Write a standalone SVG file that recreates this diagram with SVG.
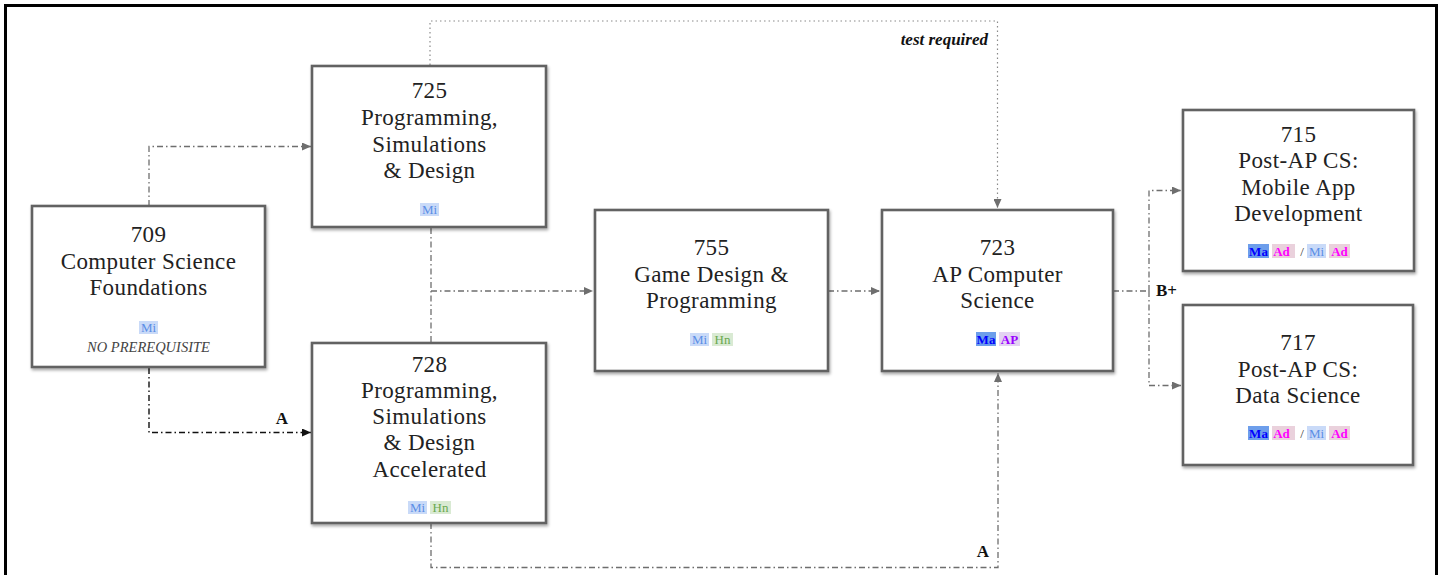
<svg xmlns="http://www.w3.org/2000/svg" width="1444" height="575" viewBox="0 0 1444 575">
  <style>
    .box { fill: #ffffff; stroke: #626262; stroke-width: 2.6; filter: url(#shadow); }
    .title { font-family: "Liberation Serif", "Times New Roman", serif; font-size: 23px; fill: #222222; text-anchor: middle; letter-spacing: 0.4px; }
    .note { font-family: "Liberation Serif", serif; font-size: 14.5px; font-style: italic; fill: #444444; text-anchor: middle; }
    .badge { font-family: "Liberation Serif", serif; font-size: 13px; text-anchor: middle; }
    .lbl { font-family: "Liberation Serif", serif; font-size: 17px; font-weight: bold; fill: #111111; }
    .dashdot { fill: none; stroke: #6e6e6e; stroke-width: 1.3; stroke-dasharray: 6 3 1.5 3; }
    .dashdot-dark { fill: none; stroke: #111111; stroke-width: 1.4; stroke-dasharray: 6 3 1.5 3; }
    .dotted { fill: none; stroke: #8a8a8a; stroke-width: 1.2; stroke-dasharray: 1.5 3; }
  </style>
  <defs>
    <filter id="shadow" x="-10%" y="-10%" width="125%" height="130%">
      <feDropShadow dx="1" dy="2" stdDeviation="1.6" flood-color="#000000" flood-opacity="0.35"/>
    </filter>
    <marker id="arrow" markerWidth="10" markerHeight="8" refX="9" refY="4" orient="auto" markerUnits="userSpaceOnUse">
      <path d="M0,0 L9,4 L0,8 z" fill="#6e6e6e"/>
    </marker>
    <marker id="arrow-dark" markerWidth="10" markerHeight="8" refX="9" refY="4" orient="auto" markerUnits="userSpaceOnUse">
      <path d="M0,0 L9,4 L0,8 z" fill="#111111"/>
    </marker>
  </defs>

  <rect width="1444" height="575" fill="#ffffff"/>
  <!-- page frame -->
  <rect x="5.5" y="5.5" width="1431" height="620" fill="none" stroke="#000000" stroke-width="3"/>

  <!-- connectors -->
  <g id="connectors">
    <!-- 709 -> 725 -->
    <path class="dashdot" d="M149,206 V146.5 H311" marker-end="url(#arrow)"/>
    <!-- 709 -> 728 (A) -->
    <path class="dashdot-dark" d="M149,368 V432.5 H311" marker-end="url(#arrow-dark)"/>
    <text class="lbl" x="282" y="424" text-anchor="middle">A</text>
    <!-- 725 / 728 -> 755 -->
    <path class="dashdot" d="M431,228 V342"/>
    <path class="dashdot" d="M431,291 H593" marker-end="url(#arrow)"/>
    <!-- 755 -> 723 -->
    <path class="dashdot" d="M828,291 H880" marker-end="url(#arrow)"/>
    <!-- 725 -> 723 (test required) -->
    <path class="dotted" d="M430,65 V21 H997.5 V208" marker-end="url(#arrow)"/>
    <text class="lbl" x="988" y="45" text-anchor="end" font-style="italic">test required</text>
    <!-- 728 -> 723 (A) -->
    <path class="dashdot" d="M431,523 V567.5 H998 V373" marker-end="url(#arrow)"/>
    <text class="lbl" x="983" y="557" text-anchor="middle">A</text>
    <!-- 723 -> 715 / 717 (B+) -->
    <path class="dashdot" d="M1113,291 H1149"/>
    <path class="dashdot" d="M1149,291 V190.5 H1181" marker-end="url(#arrow)"/>
    <path class="dashdot" d="M1149,291 V385.5 H1181" marker-end="url(#arrow)"/>
    <text class="lbl" x="1156" y="296">B+</text>
  </g>

  <!-- 709 Computer Science Foundations -->
  <g id="n709">
    <rect class="box" x="32" y="206" width="233" height="161"/>
    <text class="title" x="148.5" y="242">709</text>
    <text class="title" x="148.5" y="269">Computer Science</text>
    <text class="title" x="148.5" y="295">Foundations</text>
    <rect x="139" y="321" width="19" height="13" fill="#c9daf8"/>
    <text class="badge" x="148.5" y="332" fill="#5b8ee6">Mi</text>
    <text class="note" x="148.5" y="352">NO PREREQUISITE</text>
  </g>

  <!-- 725 Programming, Simulations & Design -->
  <g id="n725">
    <rect class="box" x="312" y="66" width="234" height="161"/>
    <text class="title" x="429.5" y="98">725</text>
    <text class="title" x="429.5" y="125">Programming,</text>
    <text class="title" x="429.5" y="152">Simulations</text>
    <text class="title" x="429.5" y="178">&amp; Design</text>
    <rect x="420" y="203" width="19" height="13" fill="#c9daf8"/>
    <text class="badge" x="429.5" y="214" fill="#5b8ee6">Mi</text>
  </g>

  <!-- 728 Programming, Simulations & Design Accelerated -->
  <g id="n728">
    <rect class="box" x="312" y="343" width="234" height="180"/>
    <text class="title" x="429.5" y="372">728</text>
    <text class="title" x="429.5" y="398">Programming,</text>
    <text class="title" x="429.5" y="424">Simulations</text>
    <text class="title" x="429.5" y="450">&amp; Design</text>
    <text class="title" x="429.5" y="477">Accelerated</text>
    <rect x="408" y="501" width="19" height="13" fill="#c9daf8"/>
    <text class="badge" x="417.5" y="512" fill="#5b8ee6">Mi</text>
    <rect x="430" y="501" width="21" height="13" fill="#d9ead3"/>
    <text class="badge" x="440.5" y="512" fill="#6aa84f">Hn</text>
  </g>

  <!-- 755 Game Design & Programming -->
  <g id="n755">
    <rect class="box" x="595" y="210" width="233" height="161"/>
    <text class="title" x="711.5" y="255">755</text>
    <text class="title" x="711.5" y="282">Game Design &amp;</text>
    <text class="title" x="711.5" y="308">Programming</text>
    <rect x="690" y="333" width="19" height="13" fill="#c9daf8"/>
    <text class="badge" x="699.5" y="344" fill="#5b8ee6">Mi</text>
    <rect x="712" y="333" width="21" height="13" fill="#d9ead3"/>
    <text class="badge" x="722.5" y="344" fill="#6aa84f">Hn</text>
  </g>

  <!-- 723 AP Computer Science -->
  <g id="n723">
    <rect class="box" x="882" y="210" width="231" height="161"/>
    <text class="title" x="997.5" y="255">723</text>
    <text class="title" x="997.5" y="282">AP Computer</text>
    <text class="title" x="997.5" y="308">Science</text>
    <rect x="976" y="332" width="20" height="14" fill="#6d9eeb"/>
    <text class="badge" x="986" y="344" fill="#0000ff" font-weight="bold">Ma</text>
    <rect x="999" y="332" width="21" height="14" fill="#e3d3f2"/>
    <text class="badge" x="1009.5" y="344" fill="#9900ff" font-weight="bold">AP</text>
  </g>

  <!-- 715 Post-AP CS: Mobile App Development -->
  <g id="n715">
    <rect class="box" x="1183" y="110" width="231" height="161"/>
    <text class="title" x="1298.5" y="142">715</text>
    <text class="title" x="1298.5" y="168">Post-AP CS:</text>
    <text class="title" x="1298.5" y="195">Mobile App</text>
    <text class="title" x="1298.5" y="221">Development</text>
    <rect x="1248" y="244" width="21" height="14" fill="#6d9eeb"/>
    <text class="badge" x="1258.5" y="256" fill="#0000ff" font-weight="bold">Ma</text>
    <rect x="1272" y="244" width="23" height="14" fill="#ead1dc"/>
    <text class="badge" x="1281.5" y="256" fill="#ff00ff" font-weight="bold">Ad</text>
    <text class="badge" x="1302" y="256" fill="#333333">/</text>
    <rect x="1307" y="244" width="19" height="14" fill="#c9daf8"/>
    <text class="badge" x="1316.5" y="256" fill="#5b8ee6">Mi</text>
    <rect x="1329" y="244" width="21" height="14" fill="#ead1dc"/>
    <text class="badge" x="1339.5" y="256" fill="#ff00ff" font-weight="bold">Ad</text>
  </g>

  <!-- 717 Post-AP CS: Data Science -->
  <g id="n717">
    <rect class="box" x="1183" y="305" width="230" height="160"/>
    <text class="title" x="1298" y="350">717</text>
    <text class="title" x="1298" y="377">Post-AP CS:</text>
    <text class="title" x="1298" y="403">Data Science</text>
    <rect x="1248" y="426" width="21" height="14" fill="#6d9eeb"/>
    <text class="badge" x="1258.5" y="438" fill="#0000ff" font-weight="bold">Ma</text>
    <rect x="1272" y="426" width="23" height="14" fill="#ead1dc"/>
    <text class="badge" x="1281.5" y="438" fill="#ff00ff" font-weight="bold">Ad</text>
    <text class="badge" x="1302" y="438" fill="#333333">/</text>
    <rect x="1307" y="426" width="19" height="14" fill="#c9daf8"/>
    <text class="badge" x="1316.5" y="438" fill="#5b8ee6">Mi</text>
    <rect x="1329" y="426" width="21" height="14" fill="#ead1dc"/>
    <text class="badge" x="1339.5" y="438" fill="#ff00ff" font-weight="bold">Ad</text>
  </g>
</svg>
